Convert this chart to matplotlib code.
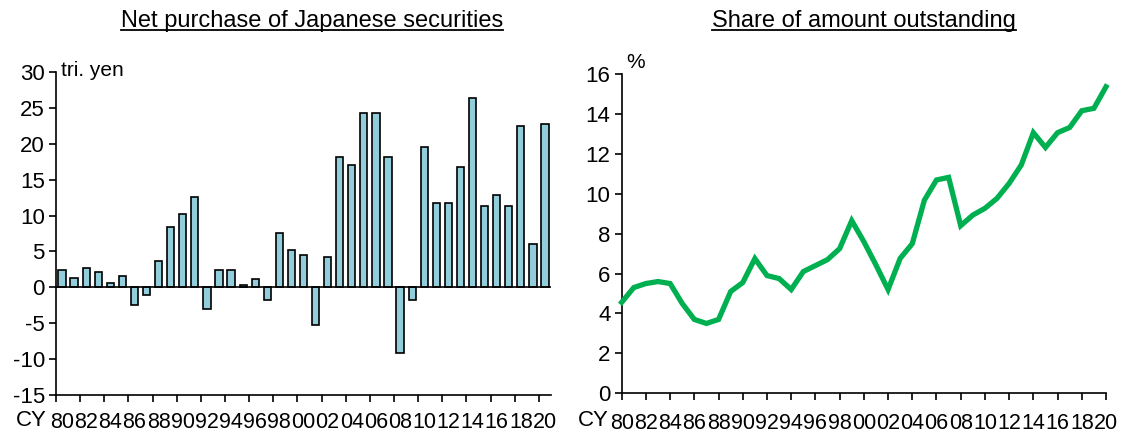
import matplotlib
matplotlib.use("Agg")
import matplotlib.pyplot as plt
import numpy as np

years = list(range(1980, 2021))
year_labels = [f"{y % 100:02d}" for y in years]

net_purchase = [2.4, 1.3, 2.7, 2.15, 0.6, 1.55, -2.4, -1.1, 3.7, 8.4,
                10.25, 12.6, -3.0, 2.4, 2.4, 0.3, 1.1, -1.8, 7.6, 5.25,
                4.5, -5.3, 4.2, 18.1, 17.0, 24.3, 24.3, 18.1, -9.2, -1.8,
                19.6, 11.8, 11.8, 16.8, 26.4, 11.3, 12.9, 11.3, 22.5, 6.0,
                22.8]

share = [4.56, 5.3, 5.5, 5.6, 5.5, 4.5, 3.7, 3.5, 3.7, 5.1,
         5.55, 6.75, 5.9, 5.75, 5.2, 6.1, 6.4, 6.7, 7.25, 8.65,
         7.6, 6.43, 5.2, 6.76, 7.5, 9.68, 10.69, 10.82, 8.4, 8.93,
         9.27, 9.77, 10.52, 11.44, 13.06, 12.32, 13.06, 13.32, 14.16, 14.28,
         15.36]

left_title = 'Net purchase of Japanese securities'
right_title = 'Share of amount outstanding'

plt.rcParams['font.family'] = ['Liberation Sans', 'DejaVu Sans']
plt.rcParams['axes.unicode_minus'] = False

W, H = 1126, 437
fig = plt.figure(figsize=(W / 100, H / 100), dpi=100)

FS = 16
XFS = 15.5
TFS = 17
UFS = 15

# Left chart
ax1 = fig.add_axes([56/W, 1-395/H, (551-56)/W, (395-72)/H])
x = np.arange(len(years))
ax1.bar(x, net_purchase, width=0.6, color='#92CDDC', edgecolor='black', linewidth=1.2, zorder=2)
ax1.axhline(0, color='black', lw=1.2, zorder=3)
ax1.set_xlim(-0.5, len(years) - 0.5)
ax1.set_ylim(-15, 30)
ax1.set_yticks(range(-15, 31, 5))
ax1.set_xticks(x[::2])
ax1.set_xticklabels(year_labels[::2])
ax1.set_xticks(np.arange(-0.5, len(years), 2), minor=True)
ax1.tick_params(axis='x', which='major', length=0, labelsize=XFS, pad=12)
ax1.tick_params(axis='x', which='minor', length=5, width=1.2, direction='out')
ax1.tick_params(axis='y', length=5, width=1.2, direction='out', labelsize=FS, pad=3)
for s in ['top', 'right']:
    ax1.spines[s].set_visible(False)
for s in ['left', 'bottom']:
    ax1.spines[s].set_linewidth(1.2)
fig.text(61/W, 1-70/H, 'tri. yen', fontsize=UFS, ha='left', va='center')
fig.text(31/W, 1-421/H, 'CY', fontsize=FS, ha='center', va='center')
fig.text(312/W, 1-21/H, left_title, fontsize=TFS, ha='center', va='center')

# Right chart
ax2 = fig.add_axes([621.7/W, 1-393.3/H, (1106-621.7)/W, (393.3-74)/H])
ax2.plot(years, share, color='#00B050', lw=3.8, solid_joinstyle='miter', zorder=3, clip_on=False)
ax2.set_xlim(1980, 2020)
ax2.set_ylim(0, 16)
ax2.set_yticks(range(0, 17, 2))
ax2.set_xticks(years[::2])
ax2.set_xticklabels(year_labels[::2])
ax2.tick_params(axis='x', length=5, width=1.2, direction='out', labelsize=XFS, pad=9)
ax2.tick_params(axis='y', length=5, width=1.2, direction='out', labelsize=FS, pad=3)
for s in ['top', 'right']:
    ax2.spines[s].set_visible(False)
for s in ['left', 'bottom']:
    ax2.spines[s].set_linewidth(1.2)
fig.text(626/W, 1-62/H, '%', fontsize=UFS, ha='left', va='center')
fig.text(593/W, 1-421/H, 'CY', fontsize=FS, ha='center', va='center')
fig.text(864/W, 1-21/H, right_title, fontsize=TFS, ha='center', va='center')

# underlines for titles
fig.canvas.draw()
r = fig.canvas.get_renderer()
for t in [t for t in fig.texts if t.get_text() in (left_title, right_title)]:
    bb = t.get_window_extent(renderer=r).transformed(fig.transFigure.inverted())
    yy = bb.y0 + 2.5 / H
    fig.add_artist(plt.Line2D([bb.x0, bb.x1], [yy, yy], color='black', lw=1.3,
                              transform=fig.transFigure))

fig.savefig('out.png', dpi=100)
